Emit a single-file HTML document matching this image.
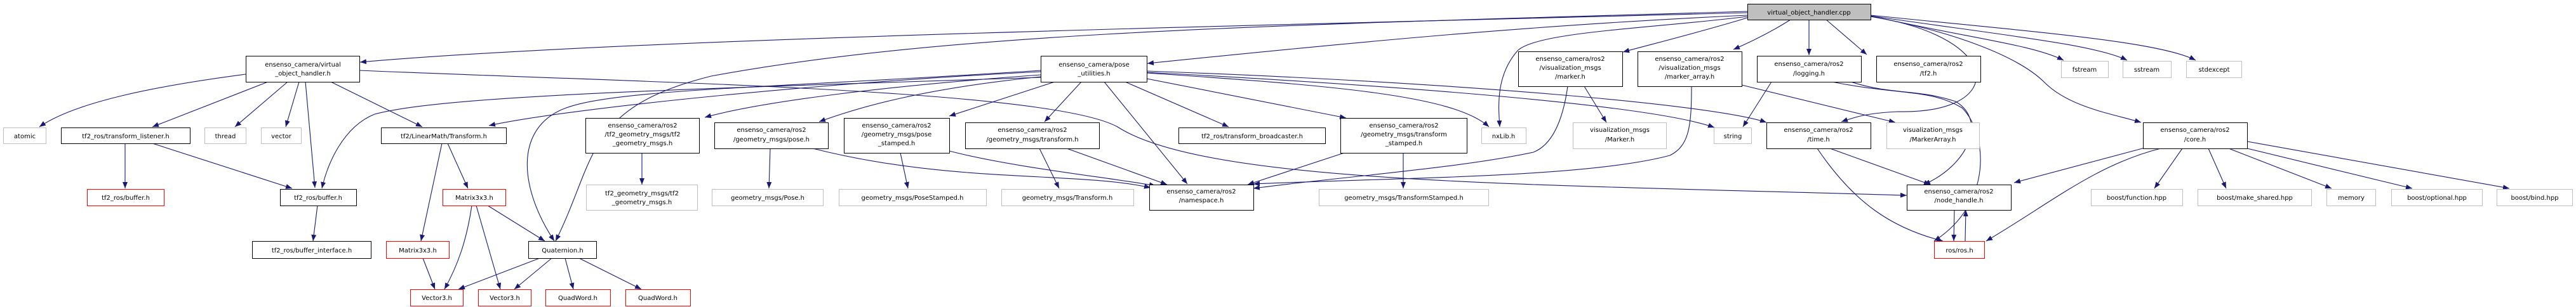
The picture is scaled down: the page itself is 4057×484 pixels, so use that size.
<!DOCTYPE html>
<html><head><meta charset="utf-8"><style>
html,body{margin:0;padding:0;background:#fff;}
svg{display:block;}
text{font-family:"DejaVu Sans","Liberation Sans",sans-serif;font-size:10px;fill:#000;}
.e{fill:none;stroke:#191970;stroke-width:1.1;}
</style></head><body>
<svg width="4057" height="484" viewBox="0 0 4057 484" xmlns="http://www.w3.org/2000/svg">
<defs><marker id="a" markerWidth="11" markerHeight="8" refX="10" refY="4" orient="auto" markerUnits="userSpaceOnUse"><polygon points="0,0 10,4 0,8" fill="#191970"/></marker></defs>
<g class="e" marker-end="url(#a)">
<path d="M2752,20 C2000,40 1000,60 567,98"/>
<path d="M2752,24 C2400,40 2100,70 1807,100"/>
<path d="M2752,28 C2680,50 2600,70 2556,82"/>
<path d="M2820,31 C2790,50 2760,65 2730,78"/>
<path d="M2849,31 L2849,87"/>
<path d="M2876,31 L2940,86"/>
<path d="M2752,26 C2600,45 2420,50 2390,80 C2355,120 2360,170 2362,200"/>
<path d="M2946,26 C3160,60 3160,180 2990,176 C2940,178 2920,185 2900,192"/>
<path d="M2946,26 C3080,50 3180,90 3220,130 C3260,170 3330,180 3372,193"/>
<path d="M2946,25 C3100,60 3200,70 3250,95"/>
<path d="M2946,25 C3150,55 3300,70 3350,95"/>
<path d="M2946,24 C3200,50 3400,65 3458,95"/>
<path d="M2752,18 C2000,40 1500,50 1120,120 C920,170 940,250 875,380"/>
<path d="M387,117 C250,135 120,160 62,200"/>
<path d="M422,129 L240,200"/>
<path d="M453,129 L370,200"/>
<path d="M471,129 L450,200"/>
<path d="M481,129 L496,296"/>
<path d="M521,129 L665,200"/>
<path d="M566,111 C1000,130 1650,140 1760,200 C1900,290 2400,290 3003,308"/>
<path d="M1639,122 C1100,140 700,150 590,180 C540,200 515,260 507,297"/>
<path d="M1639,113 C1300,130 900,170 770,198"/>
<path d="M1639,118 C1400,135 1200,160 1110,185"/>
<path d="M1639,121 C1450,140 1350,170 1290,192"/>
<path d="M1661,129 L1495,183"/>
<path d="M1703,129 L1645,192"/>
<path d="M1739,129 L1870,290"/>
<path d="M1772,129 L1935,200"/>
<path d="M1806,124 L2120,186"/>
<path d="M1806,115 C2100,135 2290,150 2345,200"/>
<path d="M1806,114 C2200,135 2600,165 2700,201"/>
<path d="M1806,112 C2300,130 2700,165 2782,193"/>
<path d="M1639,111 C1200,140 950,140 880,175 C810,210 820,300 873,380"/>
<path d="M197,226 L197,297"/>
<path d="M240,226 L460,297"/>
<path d="M500,324 L493,380"/>
<path d="M696,226 L663,380"/>
<path d="M705,226 L737,297"/>
<path d="M743,324 C735,380 720,420 700,456"/>
<path d="M750,324 L788,456"/>
<path d="M768,324 L858,380"/>
<path d="M666,407 L685,456"/>
<path d="M850,407 L722,456"/>
<path d="M869,407 L810,456"/>
<path d="M890,407 L903,456"/>
<path d="M912,407 L1010,456"/>
<path d="M1011,241 L1011,291"/>
<path d="M1213,234 L1211,297"/>
<path d="M1280,234 C1500,290 1700,270 1812,296"/>
<path d="M1418,241 L1430,297"/>
<path d="M1495,238 C1600,265 1750,280 1820,293"/>
<path d="M1637,234 L1668,297"/>
<path d="M1680,234 L1838,291"/>
<path d="M2210,241 L2210,297"/>
<path d="M2117,241 L1965,291"/>
<path d="M2495,136 L2530,193"/>
<path d="M2469,136 C2460,200 2440,230 2415,240 C2300,265 2100,280 1974,297"/>
<path d="M2664,136 C2664,200 2660,230 2630,245 C2500,280 2200,280 1974,290"/>
<path d="M2743,134 L2985,193"/>
<path d="M2790,129 L2745,200"/>
<path d="M2915,129 C2980,150 3020,140 3080,160 C3130,190 3100,260 3030,291"/>
<path d="M2885,129 C2990,150 3040,140 3090,170 C3130,210 3140,320 3046,380"/>
<path d="M2882,234 L3040,291"/>
<path d="M2862,234 C2920,320 2980,360 3060,380"/>
<path d="M3078,331 L3077,380"/>
<path d="M3095,380 L3096,331"/>
<path d="M3378,233 L3172,288"/>
<path d="M3403,234 C3300,260 3230,320 3128,380"/>
<path d="M3437,234 L3393,297"/>
<path d="M3478,234 L3506,297"/>
<path d="M3510,234 L3672,297"/>
<path d="M3539,234 L3799,297"/>
<path d="M3539,223 L3952,297"/>
</g>
<g stroke-width="1" fill="#fff">
<rect x="2752.5" y="6.5" width="194" height="25" fill="#bfbfbf" stroke="#000"/>
<rect x="387.5" y="88.5" width="179" height="41" stroke="#000"/>
<rect x="5.5" y="201.5" width="67" height="25" stroke="#bfbfbf"/>
<rect x="96.5" y="201.5" width="203" height="25" stroke="#000"/>
<rect x="322.5" y="201.5" width="65" height="25" stroke="#bfbfbf"/>
<rect x="411.5" y="201.5" width="63" height="25" stroke="#bfbfbf"/>
<rect x="600.5" y="201.5" width="197" height="25" stroke="#000"/>
<rect x="137.5" y="298.5" width="121" height="26" stroke="#ff0000"/>
<rect x="441.5" y="298.5" width="120" height="26" stroke="#000"/>
<rect x="397.5" y="380.5" width="187" height="27" stroke="#000"/>
<rect x="697.5" y="298.5" width="99" height="26" stroke="#ff0000"/>
<rect x="608.5" y="380.5" width="99" height="27" stroke="#ff0000"/>
<rect x="832.5" y="380.5" width="107" height="27" stroke="#000"/>
<rect x="646.5" y="456.5" width="83" height="26" stroke="#ff0000"/>
<rect x="753.5" y="456.5" width="83" height="26" stroke="#ff0000"/>
<rect x="859.5" y="456.5" width="102" height="26" stroke="#ff0000"/>
<rect x="985.5" y="456.5" width="102" height="26" stroke="#ff0000"/>
<rect x="922.5" y="186.5" width="179" height="55" stroke="#000"/>
<rect x="923.5" y="291.5" width="175" height="40" stroke="#bfbfbf"/>
<rect x="1125.5" y="193.5" width="179" height="41" stroke="#000"/>
<rect x="1121.5" y="298.5" width="175" height="26" stroke="#bfbfbf"/>
<rect x="1329.5" y="186.5" width="166" height="55" stroke="#000"/>
<rect x="1321.5" y="298.5" width="232" height="26" stroke="#bfbfbf"/>
<rect x="1639.5" y="88.5" width="167" height="41" stroke="#000"/>
<rect x="1520.5" y="193.5" width="211" height="41" stroke="#000"/>
<rect x="1577.5" y="298.5" width="208" height="26" stroke="#bfbfbf"/>
<rect x="1810.5" y="291.5" width="164" height="40" stroke="#000"/>
<rect x="1856.5" y="201.5" width="231" height="25" stroke="#000"/>
<rect x="2111.5" y="186.5" width="199" height="55" stroke="#000"/>
<rect x="2077.5" y="298.5" width="267" height="26" stroke="#bfbfbf"/>
<rect x="2333.5" y="201.5" width="70" height="25" stroke="#bfbfbf"/>
<rect x="2391.5" y="81.5" width="164" height="55" stroke="#000"/>
<rect x="2579.5" y="81.5" width="164" height="55" stroke="#000"/>
<rect x="2477.5" y="193.5" width="147" height="41" stroke="#bfbfbf"/>
<rect x="2699.5" y="201.5" width="59" height="25" stroke="#bfbfbf"/>
<rect x="2782.5" y="193.5" width="164" height="41" stroke="#000"/>
<rect x="2767.5" y="88.5" width="164" height="41" stroke="#000"/>
<rect x="2955.5" y="88.5" width="164" height="41" stroke="#000"/>
<rect x="3246.5" y="96.5" width="74" height="26" stroke="#bfbfbf"/>
<rect x="3343.5" y="96.5" width="76" height="26" stroke="#bfbfbf"/>
<rect x="3443.5" y="96.5" width="87" height="26" stroke="#bfbfbf"/>
<rect x="2971.5" y="193.5" width="146" height="41" stroke="#bfbfbf"/>
<rect x="3003.5" y="291.5" width="164" height="40" stroke="#000"/>
<rect x="3046.5" y="380.5" width="79" height="27" stroke="#ff0000"/>
<rect x="3375.5" y="193.5" width="164" height="41" stroke="#000"/>
<rect x="3293.5" y="298.5" width="144" height="26" stroke="#bfbfbf"/>
<rect x="3461.5" y="298.5" width="179" height="26" stroke="#bfbfbf"/>
<rect x="3664.5" y="298.5" width="77" height="26" stroke="#bfbfbf"/>
<rect x="3766.5" y="298.5" width="143" height="26" stroke="#bfbfbf"/>
<rect x="3932.5" y="298.5" width="119" height="26" stroke="#bfbfbf"/>
</g>
<g text-anchor="middle">
<text x="2849" y="23">virtual_object_handler.cpp</text>
<text x="477" y="105">ensenso_camera/virtual</text><text x="477" y="119">_object_handler.h</text>
<text x="39" y="218">atomic</text>
<text x="198" y="218">tf2_ros/transform_listener.h</text>
<text x="355" y="218">thread</text>
<text x="443" y="218">vector</text>
<text x="699" y="218">tf2/LinearMath/Transform.h</text>
<text x="198" y="315">tf2_ros/buffer.h</text>
<text x="501" y="315">tf2_ros/buffer.h</text>
<text x="491" y="398">tf2_ros/buffer_interface.h</text>
<text x="747" y="315">Matrix3x3.h</text>
<text x="658" y="398">Matrix3x3.h</text>
<text x="886" y="398">Quaternion.h</text>
<text x="688" y="473">Vector3.h</text>
<text x="795" y="473">Vector3.h</text>
<text x="910" y="473">QuadWord.h</text>
<text x="1036" y="473">QuadWord.h</text>
<text x="1012" y="201">ensenso_camera/ros2</text><text x="1012" y="215">/tf2_geometry_msgs/tf2</text><text x="1012" y="229">_geometry_msgs.h</text>
<text x="1011" y="308">tf2_geometry_msgs/tf2</text><text x="1011" y="322">_geometry_msgs.h</text>
<text x="1215" y="208">ensenso_camera/ros2</text><text x="1215" y="223">/geometry_msgs/pose.h</text>
<text x="1209" y="315">geometry_msgs/Pose.h</text>
<text x="1412" y="201">ensenso_camera/ros2</text><text x="1412" y="215">/geometry_msgs/pose</text><text x="1412" y="229">_stamped.h</text>
<text x="1437" y="315">geometry_msgs/PoseStamped.h</text>
<text x="1723" y="105">ensenso_camera/pose</text><text x="1723" y="119">_utilities.h</text>
<text x="1626" y="208">ensenso_camera/ros2</text><text x="1626" y="223">/geometry_msgs/transform.h</text>
<text x="1681" y="315">geometry_msgs/Transform.h</text>
<text x="1892" y="305">ensenso_camera/ros2</text><text x="1892" y="319">/namespace.h</text>
<text x="1972" y="218">tf2_ros/transform_broadcaster.h</text>
<text x="2211" y="201">ensenso_camera/ros2</text><text x="2211" y="215">/geometry_msgs/transform</text><text x="2211" y="229">_stamped.h</text>
<text x="2211" y="315">geometry_msgs/TransformStamped.h</text>
<text x="2368" y="218">nxLib.h</text>
<text x="2473" y="96">ensenso_camera/ros2</text><text x="2473" y="110">/visualization_msgs</text><text x="2473" y="124">/marker.h</text>
<text x="2661" y="96">ensenso_camera/ros2</text><text x="2661" y="110">/visualization_msgs</text><text x="2661" y="124">/marker_array.h</text>
<text x="2551" y="208">visualization_msgs</text><text x="2551" y="223">/Marker.h</text>
<text x="2729" y="218">string</text>
<text x="2864" y="208">ensenso_camera/ros2</text><text x="2864" y="223">/time.h</text>
<text x="2849" y="104">ensenso_camera/ros2</text><text x="2849" y="119">/logging.h</text>
<text x="3037" y="104">ensenso_camera/ros2</text><text x="3037" y="119">/tf2.h</text>
<text x="3283" y="113">fstream</text>
<text x="3381" y="113">sstream</text>
<text x="3487" y="113">stdexcept</text>
<text x="3044" y="208">visualization_msgs</text><text x="3044" y="223">/MarkerArray.h</text>
<text x="3085" y="305">ensenso_camera/ros2</text><text x="3085" y="319">/node_handle.h</text>
<text x="3086" y="398">ros/ros.h</text>
<text x="3457" y="208">ensenso_camera/ros2</text><text x="3457" y="223">/core.h</text>
<text x="3365" y="315">boost/function.hpp</text>
<text x="3551" y="315">boost/make_shared.hpp</text>
<text x="3703" y="315">memory</text>
<text x="3838" y="315">boost/optional.hpp</text>
<text x="3992" y="315">boost/bind.hpp</text>
</g>
</svg>
</body></html>
